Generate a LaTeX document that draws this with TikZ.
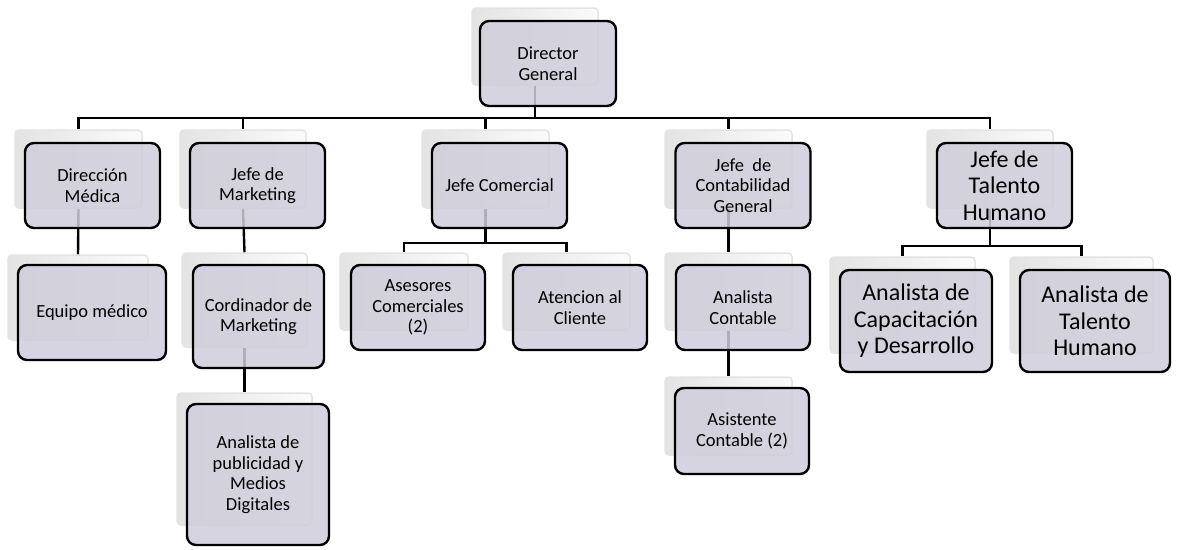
\documentclass[tikz,border=0pt]{standalone}
\usepackage{fontspec}
\setmainfont{Carlito}
\usetikzlibrary{positioning}

\definecolor{boxfill}{RGB}{207,205,218}

\tikzset{
  ghost/.style 2 args={draw=gray!22, left color=gray!22, right color=gray!3, line width=1.5pt,
    rounded corners=4pt, minimum width=#1, minimum height=#2, inner sep=0pt},
  chief/.style 2 args={draw=black, fill=boxfill, fill opacity=0.85, text opacity=1,
    line width=2.4pt, rounded corners=9pt, minimum width=#1, minimum height=#2,
    inner sep=2pt, align=center, font=\fontsize{18.5}{20.5}\selectfont},
  big/.style={font=\fontsize{24}{26.5}\selectfont},
  link/.style={black, line width=2.4pt},
}

\begin{document}
\begin{tikzpicture}[x=1pt, y=-1pt]
		\useasboundingbox (0,0) rectangle (1180,549);

		% back cards
		\node[ghost={126pt}{77pt}] (dgg) at (535,46.5) {};
		\node[ghost={127pt}{78pt}] (dmg) at (78.5,169) {};
		\node[ghost={126pt}{78pt}] (mkg) at (243,169) {};
		\node[ghost={127pt}{78pt}] (jcg) at (485.5,169) {};
		\node[ghost={127pt}{78pt}] (ctg) at (728.5,169) {};
		\node[ghost={126pt}{78pt}] (thg) at (990,169) {};

		\node[ghost={140pt}{85pt}] (eqg) at (78,297.5) {};
		\node[ghost={125pt}{94pt}] (cog) at (244.5,300) {};
		\node[ghost={128pt}{77pt}] (asg) at (404,291.5) {};
		\node[ghost={127pt}{77pt}] (atg) at (566.5,291.5) {};
		\node[ghost={127pt}{77pt}] (acg) at (728.5,291.5) {};
		\node[ghost={145pt}{96pt}] (cag) at (902.5,305) {};
		\node[ghost={143pt}{96pt}] (ahg) at (1081.5,305) {};

		\node[ghost={135pt}{132pt}] (pug) at (244.5,459) {};
		\node[ghost={127pt}{78pt}] (aig) at (728.5,416) {};

		% connectors
		\draw[link] (dgg.south) -- ++(0,32) -| (dmg.north);
		\draw[link] (dgg.south) -- ++(0,32) -| (mkg.north);
		\draw[link] (dgg.south) -- ++(0,32) -| (jcg.north);
		\draw[link] (dgg.south) -- ++(0,32) -| (ctg.north);
		\draw[link] (dgg.south) -- ++(0,32) -| (thg.north);

		\draw[link] (dmg.south) -- (eqg.north);
		\draw[link] (mkg.south) -- (cog.north);
		\draw[link] (cog.south) -- (pug.north);
		\draw[link] (jcg.south) -- ++(0,34) -| (asg.north);
		\draw[link] (jcg.south) -- ++(0,34) -| (atg.north);
		\draw[link] (ctg.south) -- (acg.north);
		\draw[link] (acg.south) -- (aig.north);
		\draw[link] (thg.south) -- ++(0,37) -| (cag.north);
		\draw[link] (thg.south) -- ++(0,37) -| (ahg.north);

		% front cards
		\node[chief={136pt}{85pt}] (dg) at (548,63.5) {Director\\General};
		\node[chief={135pt}{85pt}] (dm) at (92.5,185.5) {Dirección\\Médica};
		\node[chief={135pt}{85pt}] (mk) at (257.5,185.5) {Jefe de\\Marketing};
		\node[chief={135pt}{85pt}] (jc) at (499.5,185.5) {Jefe Comercial};
		\node[chief={135pt}{85pt}] (ct) at (743,185.5) {Jefe \ de\\Contabilidad\\General};
		\node[chief={135pt}{85pt}, big] (th) at (1004.5,185.5) {Jefe de\\Talento\\Humano};

		\node[chief={148pt}{95pt}] (eq) at (92,312.5) {Equipo médico};
		\node[chief={131pt}{103pt}] (co) at (258.5,316.5) {Cordinador de\\Marketing};
		\node[chief={134pt}{85pt}] (as) at (418,307.5) {Asesores\\Comerciales\\(2)};
		\node[chief={134pt}{85pt}] (at) at (580,307.5) {Atencion al\\Cliente};
		\node[chief={134pt}{85pt}] (ac) at (743,307.5) {Analista\\Contable};
		\node[chief={152pt}{102pt}, big] (ca) at (916,321) {Analista de\\Capacitación\\y Desarrollo};
		\node[chief={150pt}{102pt}, big] (ah) at (1095,321) {Analista de\\Talento\\Humano};

		\node[chief={142pt}{141pt}] (pu) at (258,474.5) {Analista de\\publicidad y\\Medios\\Digitales};
		\node[chief={134pt}{86pt}] (ai) at (742,431) {Asistente\\Contable (2)};

	\end{tikzpicture}
\end{document}
